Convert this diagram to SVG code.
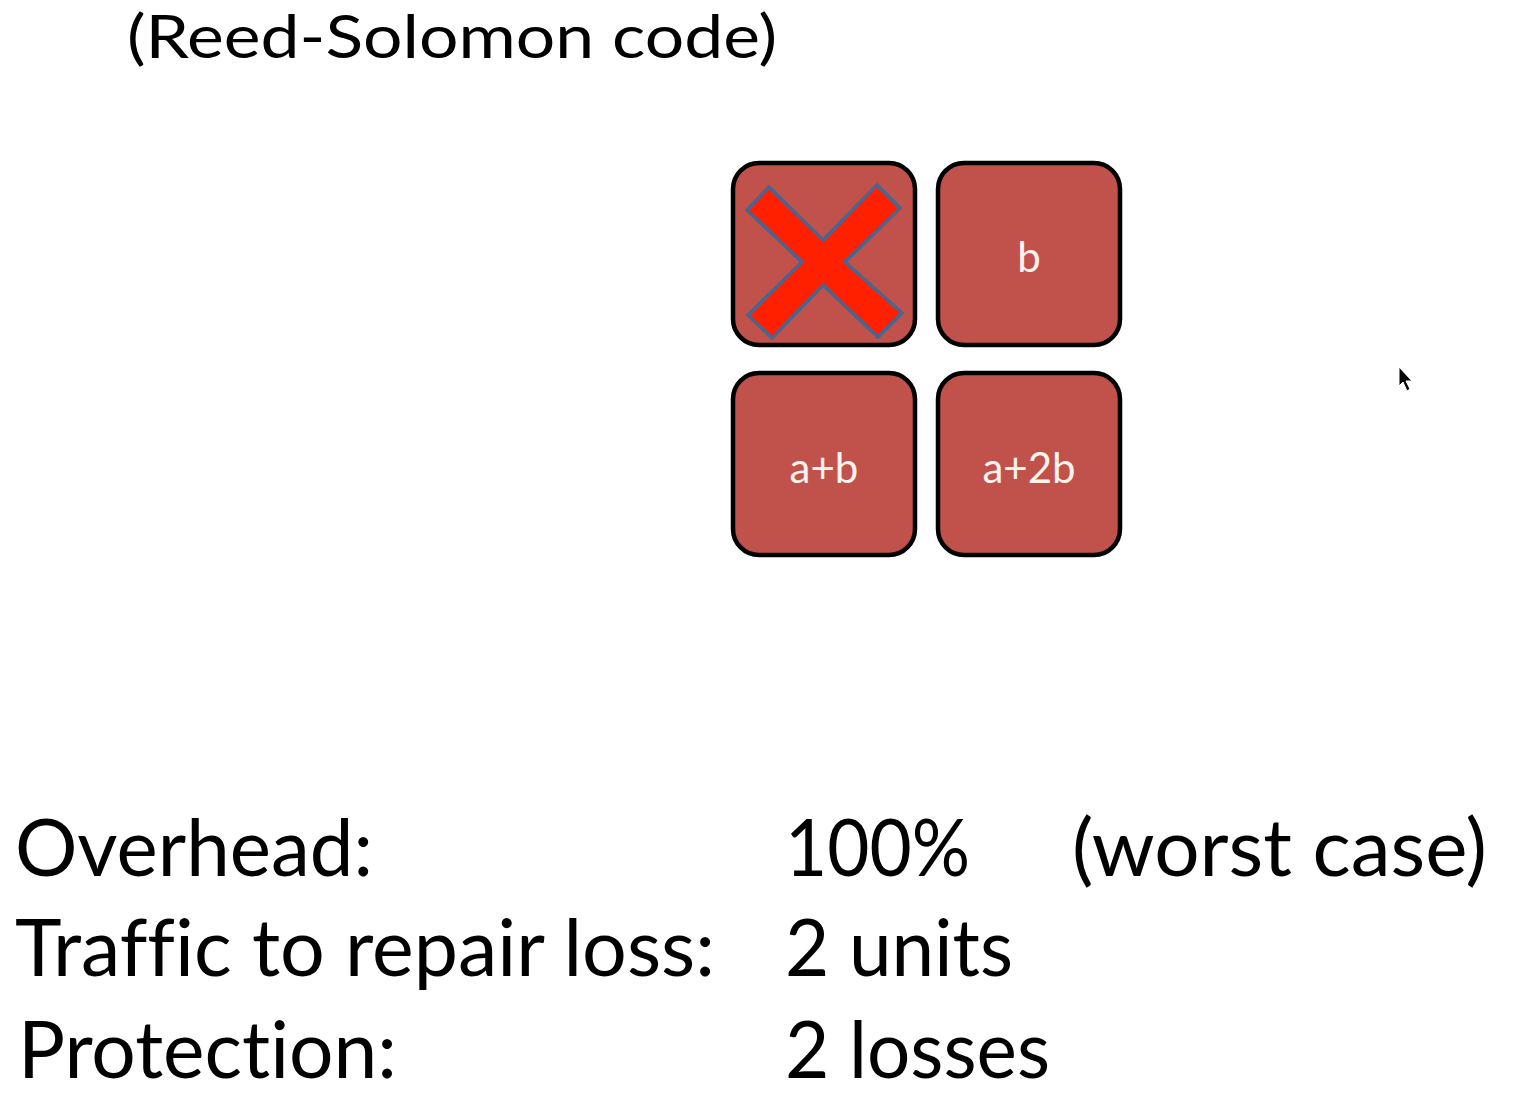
<svg xmlns="http://www.w3.org/2000/svg" width="1513" height="1102" viewBox="0 0 1513 1102">
<style>
.t{font-family:Lato,"Open Sans","Liberation Sans",sans-serif;fill:#000;font-variant-ligatures:none}
.big{font-size:80px}
.box{fill:#c0524b;stroke:#000;stroke-width:4.5}
.lbl{font-family:Lato,"Open Sans","Liberation Sans",sans-serif;font-size:42px;fill:#fdf3ee;text-anchor:middle}
</style>
<rect width="1513" height="1102" fill="#fff"/>
<text class="t" x="127" y="58" font-size="60" textLength="650" lengthAdjust="spacingAndGlyphs">(Reed-Solomon code)</text>
<g id="node-a">
<rect class="box" x="733" y="163" width="182" height="182" rx="26"/>
<polygon points="747,210 769,187 823,240 877,185 900,208 845,262 902,313 878,337 823,285 772,338 748,315 802,262" fill="#ff2000" stroke="#4a6590" stroke-width="3.5" stroke-linejoin="miter"/>
</g>
<g id="node-b">
<rect class="box" x="938" y="163" width="182" height="182" rx="26"/>
<text class="lbl" x="1029" y="272">b</text>
</g>
<g id="node-apb">
<rect class="box" x="733" y="373" width="182" height="182" rx="26"/>
<text class="lbl" x="824" y="483">a+b</text>
</g>
<g id="node-ap2b">
<rect class="box" x="938" y="373" width="182" height="182" rx="26"/>
<text class="lbl" x="1029" y="483">a+2b</text>
</g>
<g id="connectors"></g>
<polygon points="1399,367 1399,386 1403,382 1407,391 1410,389 1406,381 1412,381" fill="#000" stroke="#fff" stroke-width="1"/>
<text class="t big" x="15" y="876" textLength="358" lengthAdjust="spacingAndGlyphs">Overhead:</text>
<text class="t big" x="785" y="876" textLength="185" lengthAdjust="spacingAndGlyphs">100%</text>
<text class="t big" x="1072" y="876" textLength="415" lengthAdjust="spacingAndGlyphs">(worst case)</text>
<text class="t big" x="15" y="976" textLength="700" lengthAdjust="spacingAndGlyphs">Traffic to repair loss:</text>
<text class="t big" x="785" y="976" textLength="228" lengthAdjust="spacingAndGlyphs">2 units</text>
<text class="t big" x="18" y="1078" textLength="379" lengthAdjust="spacingAndGlyphs">Protection:</text>
<text class="t big" x="785" y="1078" textLength="265" lengthAdjust="spacingAndGlyphs">2 losses</text>
</svg>
